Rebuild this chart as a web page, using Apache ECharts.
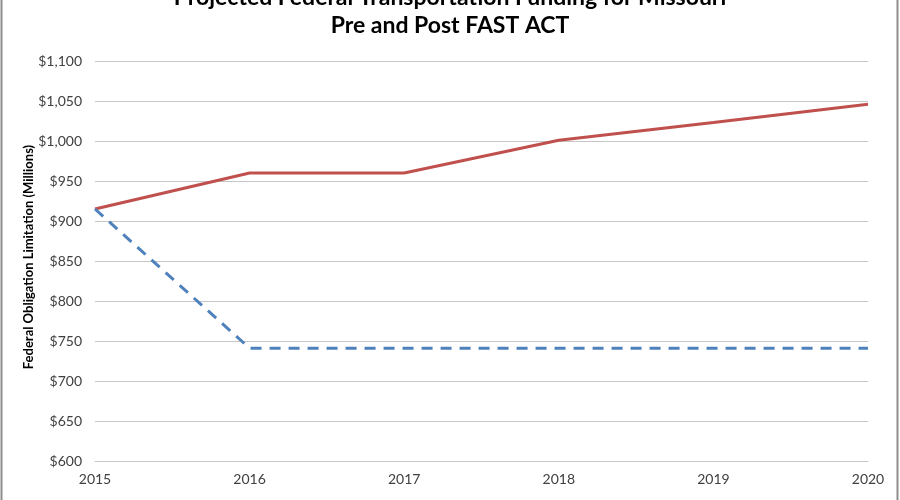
<!DOCTYPE html>
<html>
<head>
<meta charset="utf-8">
<script src="https://cdn.jsdelivr.net/npm/echarts@6/dist/echarts.min.js"></script>
<style>
html,body{margin:0;padding:0;background:#fff;}
#chart{width:900px;height:500px;}
</style>
</head>
<body>
<div id="chart"></div>
<script>
const years = ['2015', '2016', '2017', '2018', '2019', '2020'];
const postFastAct = [915, 960, 960, 1001, 1023, 1046];
const preFastAct = [915, 741, 741, 741, 741, 741];
const yTicks = { min: 600, max: 1100, interval: 50 };
const yAxisTitle = 'Federal Obligation Limitation (Millions)';

const FONT = "Lato, 'Noto Sans', sans-serif";
const chart = echarts.init(document.getElementById('chart'));
chart.setOption({
  backgroundColor: '#ffffff',
  animation: false,
  title: {
    text: 'Projected Federal Transportation Funding for Missouri\nPre and Post FAST ACT',
    left: 'center',
    top: -16,
    padding: 0,
    textStyle: { fontFamily: FONT, fontSize: 23, fontWeight: 'bold', color: '#000', lineHeight: 28 }
  },
  grid: { left: 95, right: 32, top: 61, bottom: 39 },
  xAxis: {
    type: 'category',
    data: years,
    boundaryGap: false,
    axisLine: { show: true, lineStyle: { color: '#c6c6c6', width: 1 } },
    axisTick: { show: false },
    axisLabel: { fontFamily: FONT, fontSize: 14, color: '#404040', margin: 11 }
  },
  yAxis: {
    type: 'value',
    min: yTicks.min, max: yTicks.max, interval: yTicks.interval,
    axisLine: { show: false },
    axisTick: { show: false },
    splitLine: { lineStyle: { color: '#c6c6c6', width: 1 } },
    axisLabel: {
      fontFamily: FONT, fontSize: 14, color: '#404040', margin: 13,
      formatter: v => '$' + v.toLocaleString('en-US')
    }
  },
  graphic: [
    { type: 'line', shape: { x1: 1.5, y1: 0, x2: 1.5, y2: 500 }, style: { stroke: '#8c8c8c', lineWidth: 2 } },
    { type: 'line', shape: { x1: 897.5, y1: 0, x2: 897.5, y2: 500 }, style: { stroke: '#8c8c8c', lineWidth: 2 } },
    {
      type: 'text', x: 29, y: 257, rotation: Math.PI / 2,
      style: {
        text: yAxisTitle, fontFamily: FONT, fontSize: 13, fontWeight: 'bold', fill: '#000',
        textAlign: 'center', textVerticalAlign: 'middle'
      }
    }
  ],
  series: [
    {
      name: 'Post FAST ACT', type: 'line', data: postFastAct,
      symbol: 'none', lineStyle: { color: '#C0504D', width: 3 }
    },
    {
      name: 'Pre FAST ACT', type: 'line', data: preFastAct,
      symbol: 'none', lineStyle: { color: '#4F81BD', width: 3, type: [11, 8] }
    }
  ]
});
</script>
</body>
</html>
